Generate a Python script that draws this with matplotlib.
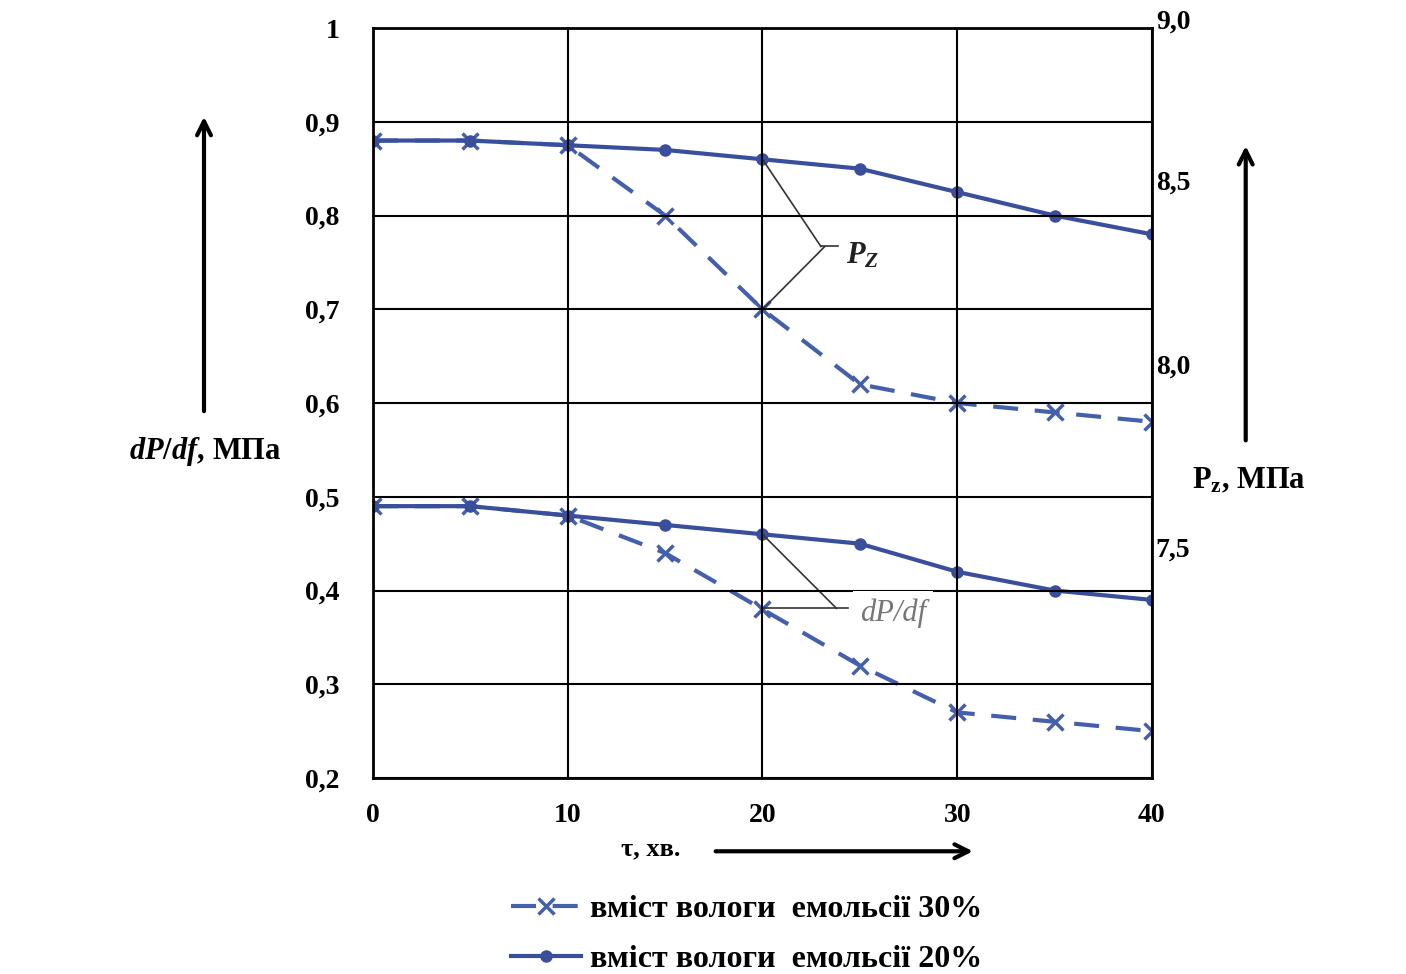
import matplotlib.pyplot as plt
import numpy as np

# time, min
tau = [0, 5, 10, 15, 20, 25, 30, 35, 40]
# upper pair: P_z (plotted in left-axis units)
pz_30 = [0.88, 0.88, 0.875, 0.80, 0.70, 0.62, 0.60, 0.59, 0.58]
pz_20 = [0.88, 0.88, 0.875, 0.87, 0.86, 0.85, 0.825, 0.80, 0.78]
# lower pair: dP/df
dp_30 = [0.49, 0.49, 0.48, 0.44, 0.38, 0.32, 0.27, 0.26, 0.25]
dp_20 = [0.49, 0.49, 0.48, 0.47, 0.46, 0.45, 0.42, 0.40, 0.39]

left_ticks = [0.2, 0.3, 0.4, 0.5, 0.6, 0.7, 0.8, 0.9, 1.0]
left_labels = ['0,2', '0,3', '0,4', '0,5', '0,6', '0,7', '0,8', '0,9', '1']
right_pos = [1.006, 0.835, 0.638, 0.443]
right_labels = ['9,0', '8,5', '8,0', '7,5']
x_ticks = [0, 10, 20, 30, 40]

legend_labels = ['вміст вологи  емольсії 30%', 'вміст вологи  емольсії 20%']

plt.rcParams['font.family'] = ['Liberation Serif', 'DejaVu Serif']
plt.rcParams['mathtext.fontset'] = 'custom'
plt.rcParams['mathtext.rm'] = 'Liberation Serif:bold'
plt.rcParams['mathtext.it'] = 'Liberation Serif:italic:bold'
plt.rcParams['mathtext.bf'] = 'Liberation Serif:bold'
c_dash = '#4560aa'
c_solid = '#3a4f9c'

fig = plt.figure(figsize=(14.06, 9.74), dpi=100)
ax = fig.add_axes([0.2653, 0.2012, 0.554, 0.770])

l1, = ax.plot(tau, pz_30, linestyle=(0, (6, 4)), color=c_dash, lw=3, marker='x', ms=12, mew=2.5)
l2, = ax.plot(tau, pz_20, linestyle='-', color=c_solid, lw=3, marker='o', ms=8)
ax.plot(tau, dp_30, linestyle=(0, (6, 4)), color=c_dash, lw=3, marker='x', ms=12, mew=2.5)
ax.plot(tau, dp_20, linestyle='-', color=c_solid, lw=3, marker='o', ms=8)

ax.set_xlim(0, 40)
ax.set_ylim(0.2, 1.0)
ax.set_xticks(x_ticks)
ax.set_xticklabels([str(t) for t in x_ticks], fontsize=20, fontweight='bold')
ax.set_yticks(left_ticks)
ax.set_yticklabels(left_labels, fontsize=20, fontweight='bold')
ax.tick_params(length=0)
ax.tick_params(axis='x', pad=18)
ax.tick_params(axis='y', pad=24)
ax.grid(True, color='black', lw=1.5)
for s in ax.spines.values():
    s.set_linewidth(2)
ax.set_axisbelow(False)

# right axis labels
for p, lab in zip(right_pos, right_labels):
    ax.text(1.005, p, lab, transform=ax.get_yaxis_transform(), fontsize=20,
            fontweight='bold', va='center', ha='left')

# annotations
ax.plot([20, 23.0], [0.86, 0.767], color='#333333', lw=1.2)
ax.plot([20, 23.2], [0.70, 0.767], color='#333333', lw=1.2)
ax.plot([23.0, 23.9], [0.767, 0.767], color='#333333', lw=1.2)
ax.text(24.3, 0.757, r'$P_Z$', fontsize=22, va='center', color='#222222')

ax.text(25.0, 0.376, 'dP/df', fontsize=22, fontstyle='italic', va='center', color='#777777',
        bbox=dict(facecolor='white', edgecolor='none', pad=5))
ax.plot([20, 23.8], [0.46, 0.381], color='#333333', lw=1.2)
ax.plot([20, 24.4], [0.381, 0.381], color='#333333', lw=1.2)

# axis titles and arrows
fig.text(0.146, 0.536, r'$dP/df$, МПа', fontsize=22, fontweight='bold', ha='center', va='center')
fig.text(0.888, 0.506, r'P$_\mathbf{z}$, МПа', fontsize=22, fontweight='bold', ha='center', va='center')
fig.text(0.463, 0.129, 'τ, хв.', fontsize=19, fontweight='bold', ha='center', va='center')

fig.add_artist(plt.Annotation('', xy=(0.1451, 0.883), xytext=(0.1451, 0.575), xycoords='figure fraction',
                              arrowprops=dict(arrowstyle='->', lw=3, color='black', mutation_scale=25)))
fig.add_artist(plt.Annotation('', xy=(0.886, 0.853), xytext=(0.886, 0.545), xycoords='figure fraction',
                              arrowprops=dict(arrowstyle='->', lw=3, color='black', mutation_scale=25)))
fig.add_artist(plt.Annotation('', xy=(0.694, 0.126), xytext=(0.507, 0.126), xycoords='figure fraction',
                              arrowprops=dict(arrowstyle='->', lw=3, color='black', mutation_scale=25)))

fig.legend([l1, l2], legend_labels, loc='center', bbox_to_anchor=(0.531, 0.041),
           frameon=False, prop={'size': 23, 'weight': 'bold'}, handlelength=2.2,
           handletextpad=0.3, labelspacing=0.65)

fig.savefig('out.png', dpi=100)
